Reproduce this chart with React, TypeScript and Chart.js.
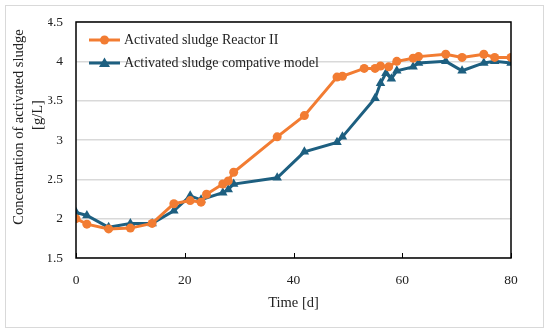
import React, { useEffect, useRef } from "react";
import { Chart, registerables } from "chart.js";

Chart.register(...registerables);

const reactorDays = [0, 2, 6, 10, 14, 18, 21, 23, 24, 27, 28, 29, 37, 42, 48, 49, 53, 55, 56, 57.5, 59, 62, 63, 68, 71, 75, 77, 80];
const reactorValues = [2.0, 1.93, 1.87, 1.88, 1.94, 2.19, 2.23, 2.21, 2.31, 2.44, 2.48, 2.59, 3.04, 3.31, 3.8, 3.81, 3.91, 3.91, 3.94, 3.93, 4.0, 4.04, 4.06, 4.09, 4.05, 4.09, 4.05, 4.05];

const modelDays = [0, 2, 6, 10, 14, 18, 21, 23, 27, 28, 29, 37, 42, 48, 49, 55, 56, 57, 58, 59, 62, 63, 68, 71, 75, 77, 80];
const modelValues = [2.08, 2.04, 1.89, 1.94, 1.94, 2.1, 2.29, 2.24, 2.33, 2.37, 2.44, 2.52, 2.85, 2.97, 3.04, 3.53, 3.72, 3.85, 3.78, 3.88, 3.93, 3.98, 4.0, 3.88, 3.98, 4.0, 3.98];

const seriesNames = ["Activated sludge Reactor II", "Activated sludge compative model"];
const seriesColors = ["#F27C32", "#1D5F80"];
const xTitle = "Time [d]";
const yTitle = ["Concentration of activated sludge", "[g/L]"];
const xTicks = [0, 20, 40, 60, 80];
const yTickLabels = ["1.5", "2", "2.5", "3", "3.5", "4", "4.5"];

const FONT = "'Liberation Serif', 'DejaVu Serif', serif";

export default function App() {
  const ref = useRef<HTMLCanvasElement | null>(null);

  useEffect(() => {
    document.body.style.margin = "0";
    const canvas = ref.current;
    if (!canvas) return;

    const framePlugin = {
      id: "frame",
      beforeDraw(chart: any) {
        const { ctx } = chart;
        ctx.save();
        ctx.fillStyle = "#ffffff";
        ctx.fillRect(0, 0, chart.width, chart.height);
        ctx.strokeStyle = "#d9d9d9";
        ctx.lineWidth = 1;
        ctx.strokeRect(5.5, 5.5, 538, 322);
        ctx.restore();
      },
      afterDraw(chart: any) {
        const { ctx, chartArea } = chart;
        ctx.save();
        ctx.fillStyle = "#222222";
        ctx.font = `14.5px ${FONT}`;
        ctx.textAlign = "center";
        ctx.textBaseline = "middle";
        ctx.translate(19, 127);
        ctx.rotate(-Math.PI / 2);
        ctx.fillText(yTitle[0], 0, 0);
        ctx.fillText(yTitle[1], 12, 19);
        ctx.restore();
      },
      afterDatasetsDraw(chart: any) {
        const { ctx, chartArea } = chart;
        const xs = chart.scales.x;
        ctx.save();
        ctx.strokeStyle = "#000000";
        ctx.lineWidth = 1.5;
        ctx.strokeRect(chartArea.left, chartArea.top, chartArea.right - chartArea.left, chartArea.bottom - chartArea.top);
        ctx.lineWidth = 1;
        for (const t of xTicks) {
          const px = Math.round(xs.getPixelForValue(t)) + 0.5;
          ctx.beginPath();
          ctx.moveTo(px, chartArea.bottom);
          ctx.lineTo(px, chartArea.bottom - 5);
          ctx.stroke();
        }
        // legend
        const lx = chartArea.left + 13;
        const styles = ["circle", "triangle"];
        for (let i = 0; i < 2; i++) {
          const y = chartArea.top + 18 + i * 23;
          ctx.strokeStyle = seriesColors[i];
          ctx.lineWidth = 3;
          ctx.beginPath();
          ctx.moveTo(lx, y);
          ctx.lineTo(lx + 31, y);
          ctx.stroke();
          ctx.fillStyle = seriesColors[i];
          ctx.beginPath();
          if (styles[i] === "circle") {
            ctx.arc(lx + 15.5, y, 4.5, 0, Math.PI * 2);
          } else {
            ctx.moveTo(lx + 15.5, y - 5.5);
            ctx.lineTo(lx + 21, y + 4);
            ctx.lineTo(lx + 10, y + 4);
            ctx.closePath();
          }
          ctx.fill();
          ctx.fillStyle = "#222222";
          ctx.font = `14px ${FONT}`;
          ctx.textBaseline = "middle";
          ctx.textAlign = "left";
          ctx.fillText(seriesNames[i], lx + 35, y);
        }
        ctx.restore();
      },
    };

    const chart = new Chart(canvas, {
      type: "line",
      data: {
        datasets: [
          {
            label: seriesNames[0],
            data: reactorDays.map((d, i) => ({ x: d, y: reactorValues[i] })),
            borderColor: seriesColors[0],
            backgroundColor: seriesColors[0],
            borderWidth: 3,
            pointStyle: "circle",
            pointRadius: 4.5,
            pointBorderWidth: 0,
            tension: 0,
          },
          {
            label: seriesNames[1],
            data: modelDays.map((d, i) => ({ x: d, y: modelValues[i] })),
            borderColor: seriesColors[1],
            backgroundColor: seriesColors[1],
            borderWidth: 3,
            pointStyle: "triangle",
            pointRadius: 5.5,
            pointBorderWidth: 0,
            tension: 0,
          },
        ],
      },
      options: {
        animation: false,
        responsive: false,
        maintainAspectRatio: false,
        layout: { padding: { left: 48, top: 22, right: 39, bottom: 0 } },
        plugins: { legend: { display: false }, tooltip: { enabled: false } },
        scales: {
          x: {
            type: "linear",
            min: 0,
            max: 80,
            afterBuildTicks: (s: any) => {
              s.ticks = xTicks.map((v) => ({ value: v }));
            },
            afterFit: (s: any) => {
              s.height = 75;
            },
            grid: { display: false, drawTicks: false },
            border: { display: false },
            ticks: { color: "#222222", font: { family: FONT, size: 13.5 }, padding: 14, maxRotation: 0 },
            title: {
              display: true,
              text: xTitle,
              color: "#222222",
              font: { family: FONT, size: 14.5 },
              padding: { top: 0, bottom: 21 },
            },
          },
          y: {
            min: 1.5,
            max: 4.5,
            ticks: {
              stepSize: 0.5,
              color: "#222222",
              font: { family: FONT, size: 13.5 },
              padding: 13,
              callback: (_v: any, i: number) => yTickLabels[i],
            },
            afterFit: (s: any) => {
              s.width = 28;
            },
            grid: { color: "#d9d9d9", lineWidth: 1.5, drawTicks: false },
            border: { display: false },
            title: { display: false },
          },
        },
      },
      plugins: [framePlugin],
    });
    return () => chart.destroy();
  }, []);

  return (
    <div style={{ width: 550, height: 333 }}>
      <canvas ref={ref} width={550} height={333} style={{ width: 550, height: 333 }} />
    </div>
  );
}
